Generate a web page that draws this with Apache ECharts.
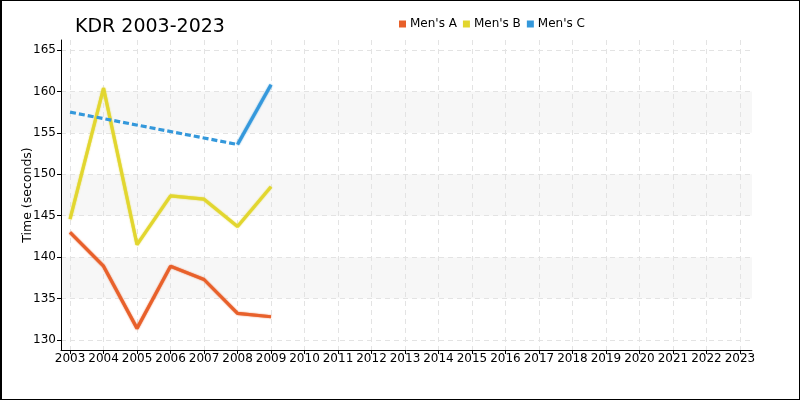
<!DOCTYPE html>
<html>
<head>
<meta charset="utf-8">
<script src="https://cdn.jsdelivr.net/npm/echarts@6/dist/echarts.min.js"></script>
<style>
html,body{margin:0;padding:0;background:#fff;}
#wrap{width:800px;height:400px;box-sizing:border-box;border:1px solid #000;border-left-width:2px;position:relative;overflow:hidden;}
#chart{position:absolute;left:-2px;top:-1px;width:800px;height:400px;}
</style>
</head>
<body>
<div id="wrap"><div id="chart"></div></div>
<script>
const years = [2003, 2004, 2005, 2006, 2007, 2008, 2009];
const xTicks = [2003,2004,2005,2006,2007,2008,2009,2010,2011,2012,2013,2014,2015,2016,2017,2018,2019,2020,2021,2022,2023];
const yTicks = [130, 135, 140, 145, 150, 155, 160, 165];
const mensA = [143.0, 138.9, 131.4, 138.9, 137.3, 133.2, 132.8];
const mensB = [144.6, 160.4, 141.5, 147.4, 147.0, 143.7, 148.5];
const mensC = [157.5, null, null, null, null, 153.6, 160.8];
const seriesNames = ["Men's A", "Men's B", "Men's C"];
const colors = ['#e8602a', '#e2d62e', '#3498db'];

function pairs(vals) {
  return years.map((y, i) => [y, vals[i]]);
}
// dashed connectors across gaps (only endpoints of each gap)
function gapLinks(vals) {
  const out = [];
  let last = -1;
  for (let i = 0; i < vals.length; i++) {
    if (vals[i] == null) continue;
    if (last >= 0 && i - last > 1) {
      out.push([years[last], vals[last]], [years[i], vals[i]], [null, null]);
    }
    last = i;
  }
  return out;
}

const chart = echarts.init(document.getElementById('chart'), null, {renderer: 'canvas'});
const FONT = 'DejaVu Sans';
const lineSeries = (name, vals, color) => ({
  name: name, type: 'line', data: pairs(vals), showSymbol: false, symbol: 'none',
  lineStyle: {width: 3.2, color: color, shadowColor: color, shadowBlur: 1.5, opacity: 0.95},
  itemStyle: {color: color},
  connectNulls: false, animation: false, z: 3
});
const series = [
  lineSeries(seriesNames[0], mensA, colors[0]),
  lineSeries(seriesNames[1], mensB, colors[1]),
  lineSeries(seriesNames[2], mensC, colors[2]),
  {
    name: seriesNames[2] + ' gap', type: 'line', data: gapLinks(mensC), showSymbol: false, symbol: 'none',
    lineStyle: {width: 3.2, color: colors[2], type: [6, 3]}, connectNulls: false, animation: false, z: 3
  }
];

chart.setOption({
  animation: false,
  color: colors,
  title: {
    text: 'KDR 2003-2023', left: 70, top: 13,
    textStyle: {fontFamily: FONT, fontSize: 19, fontWeight: 'normal', color: '#000'}
  },
  legend: {
    data: seriesNames, left: 394, top: 13, itemGap: 6, itemWidth: 7, itemHeight: 7,
    icon: 'rect',
    textStyle: {fontFamily: FONT, fontSize: 12, color: '#000', padding: [0, 0, 0, -1]}
  },
  grid: {left: 61, right: 48, top: 40, bottom: 50, containLabel: false},
  xAxis: {
    type: 'value', min: 2002.73, max: 2023.36,
    axisLine: {show: true, lineStyle: {color: '#000', width: 1}},
    axisTick: {show: true, length: 4, lineStyle: {color: '#000'}, customValues: xTicks},
    axisLabel: {fontFamily: FONT, fontSize: 12, color: '#000', margin: 3, customValues: xTicks,
      formatter: v => String(v)},
    splitLine: {show: true, lineStyle: {color: '#e3e3e3', type: [5, 4], width: 1}}
  },
  yAxis: {
    type: 'value', min: 128.79, max: 166.21,
    name: 'Time (seconds)', nameLocation: 'middle', nameGap: 27, nameRotate: 90,
    nameMoveOverlap: false,
    nameTextStyle: {fontFamily: FONT, fontSize: 12.5, color: '#000'},
    axisLine: {show: true, lineStyle: {color: '#000', width: 1}},
    axisTick: {show: true, length: 4, lineStyle: {color: '#000'}, customValues: yTicks},
    axisLabel: {fontFamily: FONT, fontSize: 12, color: '#000', margin: 5, customValues: yTicks},
    splitLine: {show: true, lineStyle: {color: '#e3e3e3', type: [5, 4], width: 1}},
    splitArea: {show: true, areaStyle: {color: ['rgba(255,255,255,0)', '#f7f7f7']}}
  },
  series: series
});
</script>
</body>
</html>
